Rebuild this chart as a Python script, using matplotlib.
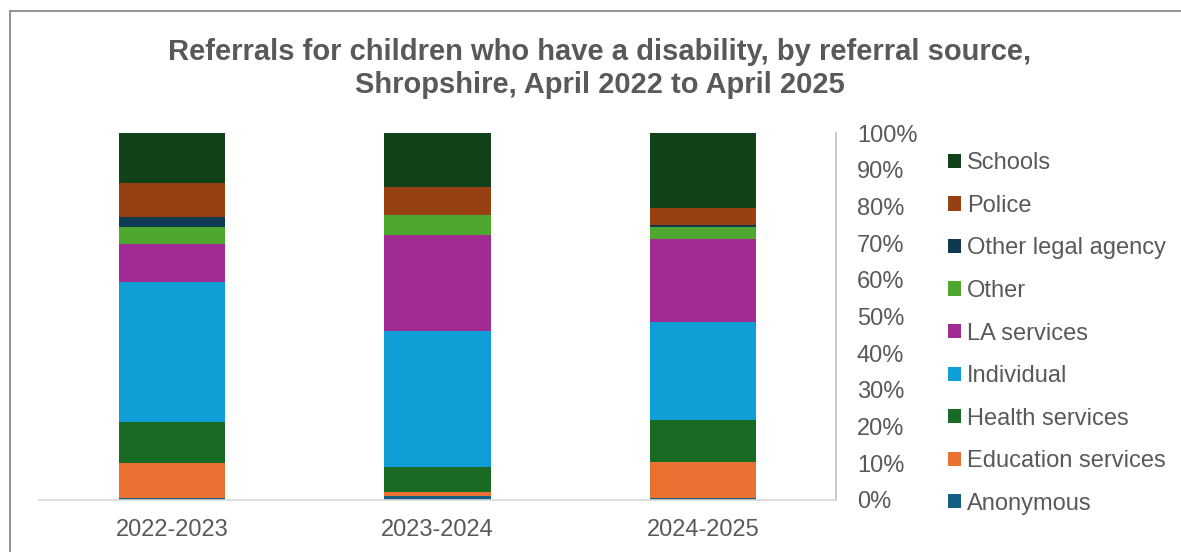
import matplotlib
matplotlib.use('Agg')
import matplotlib.pyplot as plt
from matplotlib.patches import Rectangle
from matplotlib.ticker import PercentFormatter, MultipleLocator

plt.rcParams['font.family'] = ['Liberation Sans', 'DejaVu Sans']

# data (percent of referrals per year)
years = ['2022-2023', '2023-2024', '2024-2025']
anonymous = [0.5, 1.2, 0.5]
education_services = [9.7, 1.0, 9.8]
health_services = [11.0, 6.8, 11.4]
individual = [38.1, 37.1, 26.6]
la_services = [10.4, 26.2, 22.7]
other = [4.7, 5.4, 3.2]
other_legal_agency = [2.8, 0.0, 0.5]
police = [9.1, 7.8, 4.7]
schools = [13.7, 14.6, 20.4]

series = [
    ('Anonymous', anonymous, '#156082'),
    ('Education services', education_services, '#e97132'),
    ('Health services', health_services, '#196b24'),
    ('Individual', individual, '#0f9ed5'),
    ('LA services', la_services, '#a02b93'),
    ('Other', other, '#4ea72e'),
    ('Other legal agency', other_legal_agency, '#0e3a51'),
    ('Police', police, '#974011'),
    ('Schools', schools, '#104118'),
]

text_col = '#595959'
W, H = 1181, 552

totals = [sum(s[1][i] for s in series) for i in range(len(years))]

fig = plt.figure(figsize=(W / 100, H / 100), dpi=100)
ax = fig.add_axes([39 / W, 1 - 500 / H, (836 - 39) / W, (500 - 133) / H])

x = range(len(years))
bottom = [0.0] * len(years)
for name, vals, col in series:
    share = [v / t * 100 for v, t in zip(vals, totals)]
    ax.bar(x, share, 0.4, bottom=bottom, color=col, label=name, linewidth=0)
    bottom = [b + s for b, s in zip(bottom, share)]

ax.set_xlim(-0.5, 2.5)
ax.set_ylim(0, 100)
ax.set_xticks(list(x))
ax.set_xticklabels(years)
ax.yaxis.tick_right()
ax.yaxis.set_major_locator(MultipleLocator(10))
ax.yaxis.set_major_formatter(PercentFormatter(decimals=0))
ax.tick_params(axis='both', length=0, labelsize=17, labelcolor=text_col)
ax.tick_params(axis='x', pad=14)
ax.tick_params(axis='y', pad=15)

for side in ['top', 'left']:
    ax.spines[side].set_visible(False)
ax.spines['bottom'].set_color('#d9d9d9')
ax.spines['right'].set_color('#bfbfbf')
ax.spines['bottom'].set_linewidth(1.2)
ax.spines['right'].set_linewidth(1.2)

handles, labels = ax.get_legend_handles_labels()
ax.legend(handles[::-1], labels[::-1], loc='center left',
          bbox_to_anchor=(948 / W, 1 - 333.5 / H), bbox_transform=fig.transFigure,
          frameon=False, fontsize=17, labelcolor=text_col,
          handlelength=0.55, handleheight=0.55, handletextpad=0.25,
          labelspacing=0.87, borderpad=0, borderaxespad=0)

fig.text(600 / W, 1 - 38 / H,
         'Referrals for children who have a disability, by referral source,\n'
         'Shropshire, April 2022 to April 2025',
         ha='center', va='top', fontsize=21, fontweight='bold', color=text_col,
         linespacing=1.22)

# chart frame
fig.add_artist(Rectangle((10 / W, -0.1), 1.2, 1 - 11 / H + 0.1,
                         transform=fig.transFigure, fill=False,
                         edgecolor='#808080', linewidth=1.2))

fig.savefig('out.png', dpi=100)
